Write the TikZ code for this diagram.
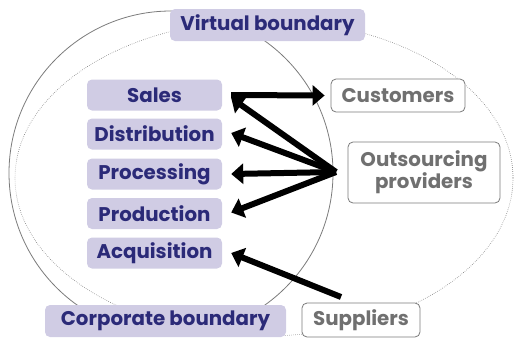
\documentclass[tikz,border=0pt]{standalone}
\usepackage{fontspec}
\setmainfont{Poppins}
\usetikzlibrary{arrows.meta}
\definecolor{lav}{HTML}{D0CCE4}
\definecolor{navy}{HTML}{2B2A78}
\definecolor{edgegray}{HTML}{7A7A7A}
\definecolor{txtgray}{HTML}{707070}
\begin{document}
\begin{tikzpicture}[x=1pt,y=-1pt,
  lbl/.style={font=\fontsize{19.8}{21}\selectfont\bfseries, inner sep=0pt, rounded corners=5pt},
  unit/.style={lbl, fill=lav, text=navy, minimum width=135pt, minimum height=31pt},
  ext/.style={lbl, fill=white, draw=edgegray, line width=0.8pt, text=txtgray},
  flow/.style={line width=6pt, -{Triangle[length=12pt,width=20pt]}}]
\useasboundingbox (0,0) rectangle (517,338);

% corporate boundary (solid) and virtual boundary (dotted)
\draw[edgegray, line width=0.8pt] (171,173) circle [radius=162];
\draw[edgegray, line width=0.6pt, dash pattern=on 0.6pt off 1.4pt] (264,178) ellipse [x radius=249, y radius=158];

% boundary labels
\node[unit, minimum width=195pt, minimum height=32pt] (vb) at (267.5,25) {Virtual boundary};
\node[unit, minimum width=241pt, minimum height=32pt] (cb) at (165.5,321) {Corporate boundary};

% business functions
\node[unit] (sales) at (154.5,95) {Sales};
\node[unit] (dist) at (154.5,134) {Distribution};
\node[unit] (proc) at (154.5,174) {Processing};
\node[unit] (prod) at (154.5,213.5) {Production};
\node[unit] (acq) at (154.5,253) {Acquisition};

% external parties
\node[ext, minimum width=134pt, minimum height=33pt] (cust) at (398,95.5) {Customers};
\node[ext, minimum width=152pt, minimum height=61pt, align=center] (out) at (424,172.5) {Outsourcing\\providers};
\node[ext, minimum width=118pt, minimum height=34pt] (sup) at (361,320) {Suppliers};

\coordinate (hub) at (336,172);
\coordinate (supsrc) at (341,297);

% flows
\draw[flow] ([xshift=9pt]sales.east) -- ([xshift=-6pt]cust.west);
\draw[flow] (hub) -- ([shift={(9pt,-3pt)}]sales.east);
\draw[flow] (hub) -- ([shift={(9pt,1pt)}]dist.east);
\draw[flow] (hub) -- ([xshift=9pt]proc.east);
\draw[flow] (hub) -- ([shift={(9pt,1pt)}]prod.east);
\draw[flow] (supsrc) -- ([xshift=9pt]acq.east);
\end{tikzpicture}
\end{document}
